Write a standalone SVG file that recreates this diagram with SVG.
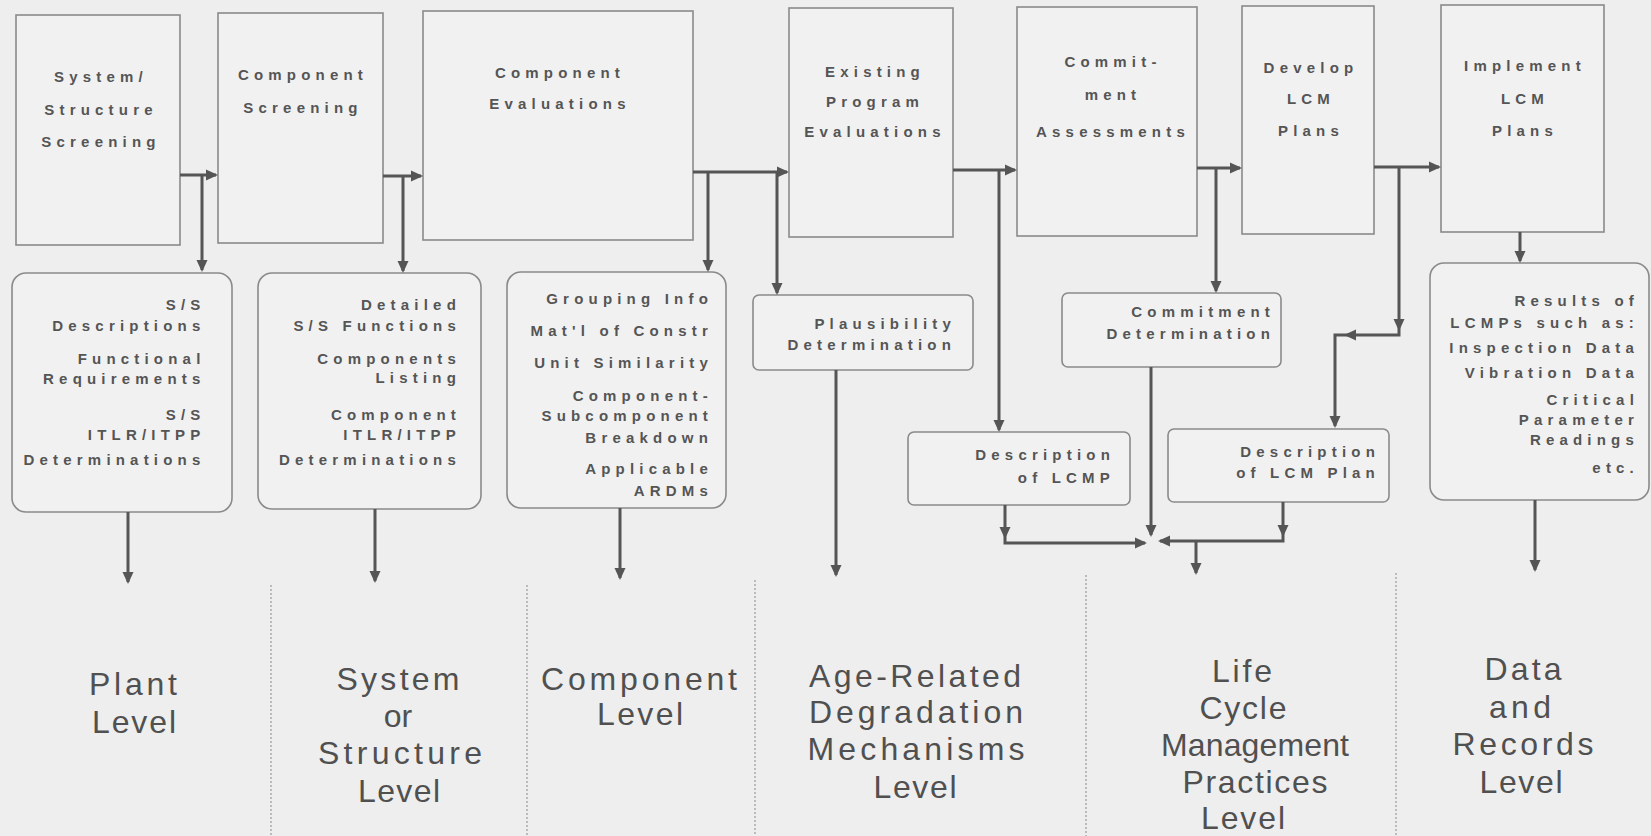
<svg xmlns="http://www.w3.org/2000/svg" xmlns:xlink="http://www.w3.org/1999/xlink" width="1651" height="836" viewBox="0 0 1651 836">
  <defs>
    <style>
      .bg { fill: #eeeeee; }
      .step { fill: #f1f1f1; stroke: #8a8a8a; stroke-width: 1.6; }
      .note { fill: #f1f1f1; stroke: #8a8a8a; stroke-width: 1.6; }
      .t { font-family: "Liberation Sans", Arial, Helvetica, sans-serif; font-size: 15px; font-weight: bold; letter-spacing: 5.2px; fill: #555555; }
      .c { text-anchor: middle; }
      .r { text-anchor: end; }
      .lvl { font-family: "Liberation Sans", Arial, Helvetica, sans-serif; font-size: 32px; fill: #505050; text-anchor: middle; }
      .flow { fill: none; stroke: #555555; stroke-width: 3; }
      .ah { fill: #555555; }
      .sep { stroke: #9a9a9a; stroke-width: 1.2; stroke-dasharray: 2 2; }
    </style>
    <!-- arrowhead, tip at origin, pointing along +x -->
    <path id="ah" d="M0,0 L-12,-5.5 L-12,5.5 Z"/>
  </defs>

  <rect class="bg" x="0" y="0" width="1651" height="836"/>

  <!-- top row: process steps -->
  <g id="step-system-screening">
    <rect class="step" x="16" y="15" width="164" height="230"/>
    <text class="t c" x="101" y="82">System/</text>
    <text class="t c" x="101" y="115">Structure</text>
    <text class="t c" x="101" y="147">Screening</text>
  </g>
  <g id="step-component-screening">
    <rect class="step" x="218" y="13" width="165" height="230"/>
    <text class="t c" x="303" y="80">Component</text>
    <text class="t c" x="303" y="113">Screening</text>
  </g>
  <g id="step-component-evaluations">
    <rect class="step" x="423" y="11" width="270" height="229"/>
    <text class="t c" x="560" y="78">Component</text>
    <text class="t c" x="560" y="109">Evaluations</text>
  </g>
  <g id="step-program-evaluations">
    <rect class="step" x="789" y="8" width="164" height="229"/>
    <text class="t c" x="875" y="77">Existing</text>
    <text class="t c" x="875" y="107">Program</text>
    <text class="t c" x="875" y="137">Evaluations</text>
  </g>
  <g id="step-commitment-assessments">
    <rect class="step" x="1017" y="7" width="180" height="229"/>
    <text class="t c" x="1113" y="67">Commit-</text>
    <text class="t c" x="1113" y="100">ment</text>
    <text class="t c" x="1113" y="137">Assessments</text>
  </g>
  <g id="step-develop-plans">
    <rect class="step" x="1242" y="6" width="132" height="228"/>
    <text class="t c" x="1311" y="73">Develop</text>
    <text class="t c" x="1311" y="104">LCM</text>
    <text class="t c" x="1311" y="136">Plans</text>
  </g>
  <g id="step-implement-plans">
    <rect class="step" x="1441" y="5" width="163" height="227"/>
    <text class="t c" x="1525" y="71">Implement</text>
    <text class="t c" x="1525" y="104">LCM</text>
    <text class="t c" x="1525" y="136">Plans</text>
  </g>

  <!-- second row: products of each step -->
  <g id="out-system">
    <rect class="note" x="12" y="273" width="220" height="239" rx="14"/>
    <text class="t r" x="205.5" y="310">S/S</text>
    <text class="t r" x="205.5" y="331">Descriptions</text>
    <text class="t r" x="205.5" y="364">Functional</text>
    <text class="t r" x="205.5" y="384">Requirements</text>
    <text class="t r" x="205.5" y="420">S/S</text>
    <text class="t r" x="205.5" y="440">ITLR/ITPP</text>
    <text class="t r" x="205.5" y="465">Determinations</text>
  </g>
  <g id="out-structure">
    <rect class="note" x="258" y="273" width="223" height="236" rx="14"/>
    <text class="t r" x="461" y="310">Detailed</text>
    <text class="t r" x="461" y="331">S/S Functions</text>
    <text class="t r" x="461" y="364">Components</text>
    <text class="t r" x="461" y="383">Listing</text>
    <text class="t r" x="461" y="420">Component</text>
    <text class="t r" x="461" y="440">ITLR/ITPP</text>
    <text class="t r" x="461" y="465">Determinations</text>
  </g>
  <g id="out-component">
    <rect class="note" x="507" y="272" width="219" height="236" rx="14"/>
    <text class="t r" x="713" y="304">Grouping Info</text>
    <text class="t r" x="713" y="336">Mat'l of Constr</text>
    <text class="t r" x="713" y="368">Unit Similarity</text>
    <text class="t r" x="713" y="401">Component-</text>
    <text class="t r" x="713" y="421">Subcomponent</text>
    <text class="t r" x="713" y="443">Breakdown</text>
    <text class="t r" x="713" y="474">Applicable</text>
    <text class="t r" x="713" y="496">ARDMs</text>
  </g>
  <g id="out-plausibility">
    <rect class="note" x="753" y="295" width="220" height="75" rx="6"/>
    <text class="t r" x="956" y="329">Plausibility</text>
    <text class="t r" x="956" y="350">Determination</text>
  </g>
  <g id="out-commitment">
    <rect class="note" x="1062" y="293" width="219" height="74" rx="6"/>
    <text class="t r" x="1275" y="317">Commitment</text>
    <text class="t r" x="1275" y="339">Determination</text>
  </g>
  <g id="out-lcmp">
    <rect class="note" x="908" y="432" width="222" height="73" rx="6"/>
    <text class="t r" x="1115" y="460">Description</text>
    <text class="t r" x="1115" y="483">of LCMP</text>
  </g>
  <g id="out-lcm-plan">
    <rect class="note" x="1168" y="429" width="221" height="73" rx="6"/>
    <text class="t r" x="1380" y="457">Description</text>
    <text class="t r" x="1380" y="478">of LCM Plan</text>
  </g>
  <g id="out-results">
    <rect class="note" x="1430" y="263" width="219" height="237" rx="14"/>
    <text class="t r" x="1639" y="306">Results of</text>
    <text class="t r" x="1639" y="328">LCMPs such as:</text>
    <text class="t r" x="1639" y="353">Inspection Data</text>
    <text class="t r" x="1639" y="378">Vibration Data</text>
    <text class="t r" x="1639" y="405">Critical</text>
    <text class="t r" x="1639" y="425">Parameter</text>
    <text class="t r" x="1639" y="445">Readings</text>
    <text class="t r" x="1639" y="473">etc.</text>
  </g>

  <!-- connectors -->
  <g id="connectors">
    <path class="flow" d="M180 175 H216 M202 175 V270"/>
    <use href="#ah" class="ah" transform="translate(218 175)"/>
    <use href="#ah" class="ah" transform="translate(202 272) rotate(90)"/>

    <path class="flow" d="M383 176 H421 M403 176 V271"/>
    <use href="#ah" class="ah" transform="translate(423 176)"/>
    <use href="#ah" class="ah" transform="translate(403 273) rotate(90)"/>

    <path class="flow" d="M693 172 H787 M708 172 V270 M777 172 V293"/>
    <use href="#ah" class="ah" transform="translate(789 172)"/>
    <use href="#ah" class="ah" transform="translate(708 272) rotate(90)"/>
    <use href="#ah" class="ah" transform="translate(777 295) rotate(90)"/>

    <path class="flow" d="M953 170 H1015 M999 170 V430"/>
    <use href="#ah" class="ah" transform="translate(1017 170)"/>
    <use href="#ah" class="ah" transform="translate(999 432) rotate(90)"/>

    <path class="flow" d="M1197 168 H1240 M1216 168 V291"/>
    <use href="#ah" class="ah" transform="translate(1242 168)"/>
    <use href="#ah" class="ah" transform="translate(1216 293) rotate(90)"/>

    <path class="flow" d="M1374 167 H1439 M1399 167 V335 H1335 V426"/>
    <use href="#ah" class="ah" transform="translate(1441 167)"/>
    <use href="#ah" class="ah" transform="translate(1399 331) rotate(90)"/>
    <use href="#ah" class="ah" transform="translate(1344 335) rotate(180)"/>
    <use href="#ah" class="ah" transform="translate(1335 428) rotate(90)"/>

    <path class="flow" d="M1520 232 V261"/>
    <use href="#ah" class="ah" transform="translate(1520 263) rotate(90)"/>

    <!-- outputs down to the level columns -->
    <path class="flow" d="M128 512 V582"/>
    <use href="#ah" class="ah" transform="translate(128 584) rotate(90)"/>
    <path class="flow" d="M375 509 V581"/>
    <use href="#ah" class="ah" transform="translate(375 583) rotate(90)"/>
    <path class="flow" d="M620 508 V578"/>
    <use href="#ah" class="ah" transform="translate(620 580) rotate(90)"/>
    <path class="flow" d="M836 370 V575"/>
    <use href="#ah" class="ah" transform="translate(836 577) rotate(90)"/>
    <path class="flow" d="M1535 500 V570"/>
    <use href="#ah" class="ah" transform="translate(1535 572) rotate(90)"/>

    <!-- life cycle practices merge -->
    <path class="flow" d="M1005 505 V543 H1145"/>
    <use href="#ah" class="ah" transform="translate(1005 539) rotate(90)"/>
    <use href="#ah" class="ah" transform="translate(1147 543)"/>
    <path class="flow" d="M1151 367 V535"/>
    <use href="#ah" class="ah" transform="translate(1151 537) rotate(90)"/>
    <path class="flow" d="M1283 502 V541 H1160"/>
    <use href="#ah" class="ah" transform="translate(1283 537) rotate(90)"/>
    <use href="#ah" class="ah" transform="translate(1158 541) rotate(180)"/>
    <path class="flow" d="M1196 542 V573"/>
    <use href="#ah" class="ah" transform="translate(1196 575) rotate(90)"/>
  </g>

  <!-- level columns -->
  <g id="level-dividers">
    <line class="sep" x1="271" y1="585" x2="271" y2="836"/>
    <line class="sep" x1="527" y1="585" x2="527" y2="836"/>
    <line class="sep" x1="755" y1="580" x2="755" y2="836"/>
    <line class="sep" x1="1086" y1="575" x2="1086" y2="836"/>
    <line class="sep" x1="1396" y1="573" x2="1396" y2="836"/>
  </g>
  <g id="level-plant">
    <text class="lvl" x="133" y="695" textLength="88" lengthAdjust="spacing">Plant</text>
    <text class="lvl" x="134" y="733" textLength="84" lengthAdjust="spacing">Level</text>
  </g>
  <g id="level-structure">
    <text class="lvl" x="398" y="690" textLength="123" lengthAdjust="spacing">System</text>
    <text class="lvl" x="398" y="727">or</text>
    <text class="lvl" x="400" y="764" textLength="164" lengthAdjust="spacing">Structure</text>
    <text class="lvl" x="399" y="802" textLength="82" lengthAdjust="spacing">Level</text>
  </g>
  <g id="level-component">
    <text class="lvl" x="639" y="690" textLength="196" lengthAdjust="spacing">Component</text>
    <text class="lvl" x="640" y="725" textLength="86" lengthAdjust="spacing">Level</text>
  </g>
  <g id="level-ardm">
    <text class="lvl" x="915" y="687" textLength="212" lengthAdjust="spacing">Age-Related</text>
    <text class="lvl" x="916" y="723" textLength="214" lengthAdjust="spacing">Degradation</text>
    <text class="lvl" x="916" y="760" textLength="217" lengthAdjust="spacing">Mechanisms</text>
    <text class="lvl" x="915" y="798" textLength="83" lengthAdjust="spacing">Level</text>
  </g>
  <g id="level-lcm">
    <text class="lvl" x="1242" y="682" textLength="60" lengthAdjust="spacing">Life</text>
    <text class="lvl" x="1243" y="719" textLength="87" lengthAdjust="spacing">Cycle</text>
    <text class="lvl" x="1255" y="756" textLength="188" lengthAdjust="spacing">Management</text>
    <text class="lvl" x="1255" y="793" textLength="145" lengthAdjust="spacing">Practices</text>
    <text class="lvl" x="1243" y="829" textLength="84" lengthAdjust="spacing">Level</text>
  </g>
  <g id="level-records">
    <text class="lvl" x="1523" y="680" textLength="77" lengthAdjust="spacing">Data</text>
    <text class="lvl" x="1520" y="718" textLength="62" lengthAdjust="spacing">and</text>
    <text class="lvl" x="1523" y="755" textLength="141" lengthAdjust="spacing">Records</text>
    <text class="lvl" x="1521" y="793" textLength="83" lengthAdjust="spacing">Level</text>
  </g>
</svg>
